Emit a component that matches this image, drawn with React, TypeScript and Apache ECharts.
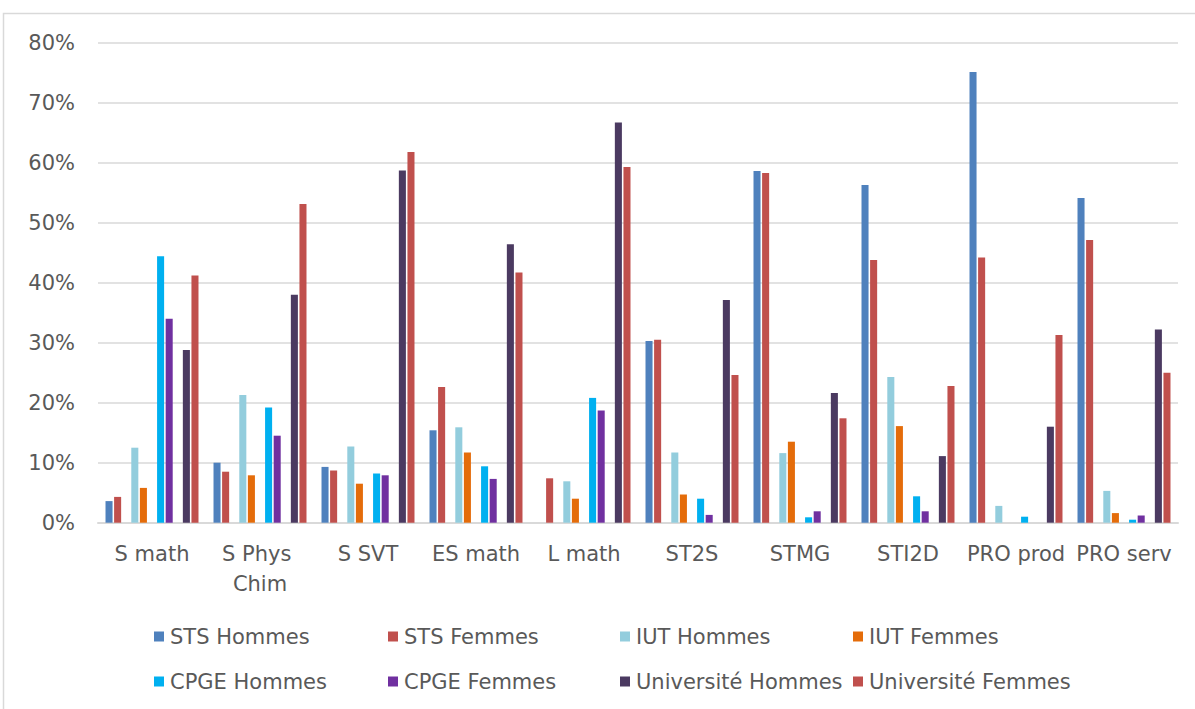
import React, { useEffect, useRef } from "react";
import * as echarts from "echarts";

const categories = ["S math", "S Phys Chim", "S SVT", "ES math", "L math", "ST2S", "STMG", "STI2D", "PRO prod", "PRO serv"];
const yTicks = [0, 10, 20, 30, 40, 50, 60, 70, 80];

const stsHommes = [3.6, 10.0, 9.3, 15.4, null, 30.3, 58.6, 56.3, 75.1, 54.1];
const stsFemmes = [4.3, 8.5, 8.7, 22.6, 7.4, 30.5, 58.3, 43.8, 44.2, 47.1];
const iutHommes = [12.5, 21.3, 12.7, 15.9, 6.9, 11.7, 11.6, 24.3, 2.8, 5.3];
const iutFemmes = [5.8, 7.9, 6.5, 11.7, 4.0, 4.7, 13.5, 16.1, null, 1.6];
const cpgeHommes = [44.4, 19.2, 8.2, 9.4, 20.8, 4.0, 0.9, 4.4, 1.0, 0.5];
const cpgeFemmes = [34.0, 14.5, 7.9, 7.3, 18.7, 1.3, 1.9, 1.9, null, 1.2];
const univHommes = [28.8, 38.0, 58.7, 46.4, 66.7, 37.1, 21.6, 11.1, 16.0, 32.2];
const univFemmes = [41.2, 53.1, 61.8, 41.7, 59.3, 24.6, 17.4, 22.8, 31.3, 25.0];

const seriesNames = ["STS Hommes", "STS Femmes", "IUT Hommes", "IUT Femmes", "CPGE Hommes", "CPGE Femmes", "Université Hommes", "Université Femmes"];
const seriesColors = ["#4F81BD", "#C0504D", "#93CDDD", "#E46C0A", "#00B0F0", "#7030A0", "#4B3A61", "#C0504D"];
const seriesValues = [stsHommes, stsFemmes, iutHommes, iutFemmes, cpgeHommes, cpgeFemmes, univHommes, univFemmes];

const FONT = "'DejaVu Sans', Verdana, sans-serif";
const TEXT = "#595959";
const GRID = "#D9D9D9";

export default function App() {
  const ref = useRef<HTMLDivElement>(null);
  useEffect(() => {
    document.body.style.margin = "0";
    if (!ref.current) return;
    const chart = echarts.init(ref.current, undefined, { renderer: "svg" });

    const series: any[] = [];
    seriesNames.forEach((name, i) => {
      series.push({
        type: "bar",
        name,
        data: seriesValues[i],
        itemStyle: { color: seriesColors[i] },
        barGap: "22%",
        barCategoryGap: "13.9%",
      });
      if (i % 2 === 1 && i < seriesNames.length - 1) {
        series.push({ type: "bar", name: "spacer" + i, data: [], silent: true, barGap: "22%", barCategoryGap: "13.9%" });
      }
    });

    const legendLeft = [149, 383, 615, 848];
    const legendTop = [621, 666];
    const legends = seriesNames.map((name, i) => ({
      show: true,
      data: [name],
      left: legendLeft[i % 4],
      top: legendTop[Math.floor(i / 4)],
      itemWidth: 10,
      itemHeight: 10,
      icon: "rect",
      selectedMode: false,
      textStyle: { fontFamily: FONT, fontSize: 21, color: TEXT, padding: [0, 0, 0, 1] },
    }));

    chart.setOption({
      animation: false,
      backgroundColor: "#ffffff",
      textStyle: { fontFamily: FONT },
      grid: { left: 98, right: 17, top: 42.7, bottom: 186.3, containLabel: false },
      legend: legends,
      graphic: [
        {
          type: "rect",
          shape: { x: 3.5, y: 13.5, width: 1400, height: 900 },
          style: { fill: "none", stroke: GRID, lineWidth: 1.5 },
          silent: true,
        },
      ],
      xAxis: {
        type: "category",
        data: categories,
        axisLine: { show: true, lineStyle: { color: GRID, width: 2 } },
        axisTick: { show: false },
        axisLabel: {
          interval: 0,
          color: TEXT,
          fontFamily: FONT,
          fontSize: 21,
          margin: 16,
          lineHeight: 30,
          width: 106,
          overflow: "break",
        },
      },
      yAxis: {
        type: "value",
        min: yTicks[0],
        max: yTicks[yTicks.length - 1],
        interval: 10,
        axisLine: { show: false },
        axisTick: { show: false },
        splitLine: { lineStyle: { color: GRID, width: 1.5 } },
        axisLabel: {
          color: TEXT,
          fontFamily: FONT,
          fontSize: 21,
          margin: 23,
          formatter: (v: number) => v + "%",
        },
      },
      series,
    });
    return () => chart.dispose();
  }, []);
  return <div ref={ref} style={{ width: 1195, height: 709 }} />;
}
